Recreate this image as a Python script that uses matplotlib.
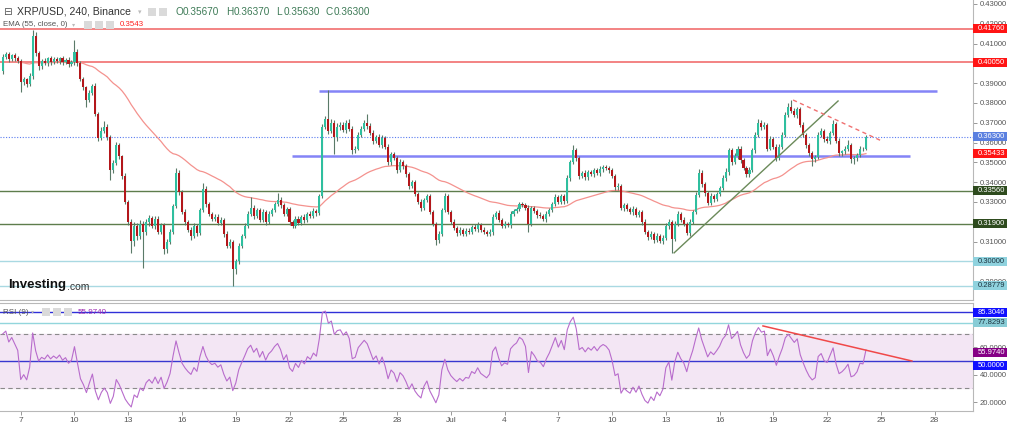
import numpy as np
import matplotlib
matplotlib.use('Agg')
import matplotlib.pyplot as plt
from matplotlib.patches import Rectangle
import matplotlib.transforms as mtransforms

plt.rcParams['font.family'] = ['Liberation Sans', 'DejaVu Sans']

# ---------------- data (4h candles, XRP/USD, starting Jun 6 00:00) ----------------
first_open = 0.3960
closes = [
    0.4030, 0.4045, 0.4020, 0.4040, 0.4025, 0.4010,   # Jun 6
    0.3905, 0.3920, 0.3895, 0.3935, 0.4140, 0.4050,   # Jun 7
    0.3985, 0.4010, 0.4000, 0.4025, 0.4005, 0.4020,   # Jun 8
    0.4010, 0.4025, 0.4005, 0.4015, 0.3995, 0.4005,   # Jun 9
    0.4058, 0.4000, 0.3920, 0.3880, 0.3815, 0.3850,   # Jun 10
    0.3885, 0.3745, 0.3625, 0.3660, 0.3680, 0.3630,   # Jun 11
    0.3460, 0.3495, 0.3590, 0.3530, 0.3430, 0.3300,   # Jun 12
    0.3200, 0.3105, 0.3180, 0.3130, 0.3190, 0.3150,   # Jun 13
    0.3200, 0.3220, 0.3180, 0.3215, 0.3150, 0.3185,   # Jun 14
    0.3065, 0.3100, 0.3150, 0.3280, 0.3445, 0.3350,   # Jun 15
    0.3250, 0.3200, 0.3160, 0.3130, 0.3180, 0.3145,   # Jun 16
    0.3260, 0.3365, 0.3290, 0.3240, 0.3215, 0.3225,   # Jun 17
    0.3195, 0.3210, 0.3140, 0.3080, 0.3100, 0.2960,   # Jun 18
    0.3000, 0.3080, 0.3130, 0.3180, 0.3240, 0.3270,   # Jun 19
    0.3230, 0.3260, 0.3210, 0.3250, 0.3200, 0.3240,   # Jun 20
    0.3260, 0.3290, 0.3310, 0.3285, 0.3240, 0.3265,   # Jun 21
    0.3200, 0.3180, 0.3215, 0.3195, 0.3225, 0.3210,   # Jun 22
    0.3240, 0.3230, 0.3255, 0.3245, 0.3330, 0.3680,   # Jun 23
    0.3720, 0.3660, 0.3700, 0.3630, 0.3680, 0.3690,   # Jun 24
    0.3665, 0.3700, 0.3670, 0.3560, 0.3570, 0.3640,   # Jun 25
    0.3670, 0.3700, 0.3685, 0.3650, 0.3610, 0.3630,   # Jun 26
    0.3590, 0.3625, 0.3580, 0.3500, 0.3540, 0.3520,   # Jun 27
    0.3460, 0.3500, 0.3480, 0.3440, 0.3380, 0.3400,   # Jun 28
    0.3340, 0.3300, 0.3270, 0.3310, 0.3330, 0.3250,   # Jun 29
    0.3190, 0.3110, 0.3140, 0.3260, 0.3330, 0.3250,   # Jun 30
    0.3200, 0.3170, 0.3145, 0.3160, 0.3140, 0.3155,   # Jul 1
    0.3150, 0.3175, 0.3165, 0.3185, 0.3160, 0.3150,   # Jul 2
    0.3140, 0.3150, 0.3225, 0.3245, 0.3210, 0.3180,   # Jul 3
    0.3190, 0.3185, 0.3240, 0.3255, 0.3265, 0.3290,   # Jul 4
    0.3285, 0.3270, 0.3190, 0.3270, 0.3255, 0.3235,   # Jul 5
    0.3230, 0.3215, 0.3240, 0.3260, 0.3290, 0.3325,   # Jul 6
    0.3300, 0.3330, 0.3305, 0.3420, 0.3500, 0.3560,   # Jul 7
    0.3520, 0.3430, 0.3445, 0.3425, 0.3450, 0.3440,   # Jul 8
    0.3460, 0.3445, 0.3465, 0.3475, 0.3470, 0.3460,   # Jul 9
    0.3430, 0.3375, 0.3380, 0.3270, 0.3285, 0.3265,   # Jul 10
    0.3250, 0.3265, 0.3235, 0.3250, 0.3200, 0.3150,   # Jul 11
    0.3125, 0.3140, 0.3110, 0.3130, 0.3105, 0.3120,   # Jul 12
    0.3180, 0.3200, 0.3115, 0.3190, 0.3240, 0.3210,   # Jul 13
    0.3190, 0.3145, 0.3200, 0.3250, 0.3335, 0.3445,   # Jul 14
    0.3390, 0.3345, 0.3295, 0.3330, 0.3315, 0.3340,   # Jul 15
    0.3370, 0.3420, 0.3450, 0.3560, 0.3500, 0.3530,   # Jul 16
    0.3570, 0.3510, 0.3470, 0.3440, 0.3460, 0.3560,   # Jul 17
    0.3640, 0.3700, 0.3680, 0.3690, 0.3570, 0.3620,   # Jul 18
    0.3580, 0.3520, 0.3580, 0.3640, 0.3740, 0.3780,   # Jul 19
    0.3760, 0.3740, 0.3770, 0.3690, 0.3640, 0.3590,   # Jul 20
    0.3545, 0.3515, 0.3525, 0.3640, 0.3660, 0.3620,   # Jul 21
    0.3610, 0.3650, 0.3695, 0.3610, 0.3545, 0.3555,   # Jul 22
    0.3570, 0.3590, 0.3515, 0.3520, 0.3535, 0.3570,   # Jul 23
    0.3567, 0.3630,                                   # Jul 24
]
# wick lengths above / below the body, in units of 0.0001
upper_wick = [
    15, 10, 12, 8, 14, 10,   10, 12, 8, 15, 30, 20,   12, 10, 15, 8, 12, 10,
    10, 8, 12, 10, 15, 10,   60, 15, 10, 12, 8, 15,   12, 15, 10, 20, 30, 12,
    10, 15, 12, 10, 8, 15,   10, 12, 20, 15, 18, 12,  15, 12, 10, 14, 12, 10,
    10, 15, 12, 10, 27, 15,  12, 15, 10, 12, 15, 10,  10, 30, 15, 12, 10, 12,
    15, 12, 10, 14, 12, 10,  12, 15, 10, 12, 15, 57,  15, 12, 10, 14, 12, 15,
    10, 12, 36, 15, 12, 10,  12, 10, 15, 12, 10, 14,  10, 12, 15, 10, 12, 15,
    15, 146, 20, 15, 18, 12, 15, 12, 18, 15, 12, 15,  12, 15, 45, 15, 12, 10,
    15, 12, 10, 14, 12, 10,  12, 15, 10, 12, 10, 12,  10, 12, 15, 10, 12, 10,
    12, 10, 15, 12, 17, 10,  10, 12, 10, 15, 10, 12,  12, 10, 15, 12, 10, 12,
    10, 12, 15, 10, 12, 10,  12, 10, 15, 12, 10, 12,  10, 12, 15, 12, 10, 12,
    12, 10, 15, 12, 10, 15,  10, 12, 10, 15, 12, 28,  15, 12, 10, 14, 12, 10,
    12, 10, 15, 12, 10, 12,  10, 12, 15, 10, 12, 10,  12, 15, 10, 12, 10, 12,
    10, 12, 10, 15, 10, 12,  12, 15, 10, 12, 15, 10,  12, 10, 15, 12, 15, 20,
    15, 12, 10, 14, 12, 10,  12, 15, 20, 15, 12, 15,  12, 15, 10, 12, 15, 12,
    15, 18, 12, 15, 10, 12,  10, 12, 15, 12, 15, 18,  35, 15, 12, 10, 12, 10,
    10, 12, 10, 15, 12, 10,  12, 10, 20, 10, 12, 10,  12, 25, 10, 12, 10, 12,
    10, 7,
]
lower_wick = [
    12, 10, 15, 8, 12, 10,   49, 12, 15, 10, 12, 15,  20, 12, 10, 14, 12, 10,
    10, 12, 15, 10, 12, 10,  12, 15, 10, 12, 35, 10,  12, 10, 15, 12, 10, 15,
    49, 12, 10, 15, 12, 10,  15, 62, 25, 20, 15, 183, 15, 20, 12, 15, 10, 12,
    30, 25, 12, 10, 12, 15,  12, 15, 10, 20, 12, 15,  10, 12, 15, 10, 12, 10,
    12, 10, 15, 12, 10, 82,  25, 15, 12, 10, 12, 10,  15, 12, 10, 12, 15, 10,
    12, 10, 12, 15, 10, 12,  15, 12, 10, 12, 10, 15,  10, 12, 10, 15, 12, 10,
    12, 15, 12, 90, 20, 15,  12, 15, 12, 20, 15, 10,  12, 10, 15, 12, 15, 10,
    12, 15, 10, 15, 12, 10,  12, 10, 15, 12, 15, 10,  12, 10, 15, 12, 10, 12,
    10, 28, 15, 10, 12, 10,  12, 10, 15, 12, 10, 12,  10, 12, 10, 15, 12, 10,
    12, 10, 15, 12, 10, 12,  10, 12, 15, 10, 12, 10,  12, 10, 40, 12, 10, 15,
    12, 10, 15, 12, 10, 12,  10, 12, 15, 10, 12, 10,  12, 15, 10, 15, 12, 10,
    12, 10, 15, 12, 10, 12,  10, 12, 15, 12, 15, 10,  12, 15, 10, 12, 15, 12,
    15, 12, 15, 10, 12, 15,  12, 15, 74, 12, 10, 12,  10, 12, 15, 10, 12, 10,
    12, 15, 12, 10, 15, 12,  12, 10, 15, 12, 15, 10,  12, 15, 10, 15, 12, 10,
    12, 10, 15, 12, 15, 10,  12, 15, 10, 12, 10, 12,  12, 10, 15, 12, 10, 15,
    12, 35, 15, 10, 12, 15,  12, 15, 10, 12, 15, 12,  15, 12, 20, 25, 12, 10,
    12, 4,
]

ema_period = 55
ema_seed = 0.4005
rsi_period = 9
rsi_seed_gain = 0.0012
rsi_seed_loss = 0.0009

# horizontal levels
red_levels = [0.41760, 0.40050]
green_levels = [0.33560, 0.31900]
cyan_levels = [0.30000, 0.28779]
last_price = 0.36300
ema_last = 0.35433
# range lines: (start day, end day, price)  -- days since Jun 6 00:00
range_lines = [(17.64, 52.13, 0.3862), (16.14, 50.63, 0.3530)]
up_trend_days = [37.46, 46.61]
up_trend_prices = [0.3043, 0.3810]
down_trend_days = [44.10, 49.12]
down_trend_prices = [0.3815, 0.3605]
rsi_trend_days = [42.42, 50.73]
rsi_trend_vals = [75.5, 50.0]
rsi_hi, rsi_mid_hi, rsi_mid = 85.3046, 77.8293, 50.0
rsi_last = 55.9740
rsi_band = (30, 70)

header_title = 'XRP/USD, 240, Binance'
ohlc_keys = ['O', 'H', 'L', 'C']
ohlc_vals = ['0.35670', '0.36370', '0.35630', '0.36300']

tick_days = [1, 4, 7, 10, 13, 16, 19, 22, 25, 28, 31, 34, 37, 40, 43, 46, 49, 52]
tick_labels = ['7', '10', '13', '16', '19', '22', '25', '28', 'Jul', '4', '7', '10',
               '13', '16', '19', '22', '25', '28']
price_ticks = [0.29, 0.30, 0.31, 0.32, 0.33, 0.34, 0.35, 0.36, 0.37, 0.38, 0.39,
               0.40, 0.41, 0.42, 0.43]
price_ticks_covered = [0.30, 0.32, 0.40]   # hidden under level tags in the reference
rsi_ticks = [20, 40, 60, 80]
rsi_ticks_covered = [80]

# ---------------- derived ----------------
closes_a = np.array(closes)
opens_a = np.concatenate([[first_open], closes_a[:-1]])
highs_a = np.maximum(opens_a, closes_a) + np.array(upper_wick) * 1e-4
lows_a = np.minimum(opens_a, closes_a) - np.array(lower_wick) * 1e-4
xs = np.arange(len(closes)) / 6.0

alpha = 2.0 / (ema_period + 1)
ema = []
e = ema_seed
for c in closes:
    e = e + alpha * (c - e)
    ema.append(e)

rsi = []
ag, al = rsi_seed_gain, rsi_seed_loss
prev = first_open
for c in closes:
    d = c - prev
    ag = (ag * (rsi_period - 1) + max(d, 0)) / rsi_period
    al = (al * (rsi_period - 1) + max(-d, 0)) / rsi_period
    rsi.append(100 - 100 / (1 + ag / al))
    prev = c

# ---------------- figure ----------------
W, H = 1024, 426
fig = plt.figure(figsize=(W / 100, H / 100), dpi=100)
fig.patch.set_facecolor('white')

def fx(px):
    return px / W

def fy(py):
    return 1 - py / H

axis_x = 973
main_top, main_bot = 0, 300
rsi_top, rsi_bot = 303, 411
ax = fig.add_axes([0, fy(main_bot), fx(axis_x), fy(main_top) - fy(main_bot)])
axr = fig.add_axes([0, fy(rsi_bot), fx(axis_x), fy(rsi_top) - fy(rsi_bot)], sharex=ax)

xmin, xmax = -0.156, 54.14
ax.set_xlim(xmin, xmax)
main_ylim = (0.2805, 0.4320)
rsi_ylim = (13.6, 92.2)
ax.set_ylim(*main_ylim)
axr.set_ylim(*rsi_ylim)

GREY = '#b8b8b8'
TXT = '#555555'
FS = 5.5
for a in (ax, axr):
    a.set_facecolor('white')
    for s in ('left', 'top'):
        a.spines[s].set_visible(False)
    a.spines['right'].set_color(GREY)
    a.spines['bottom'].set_color(GREY)
    a.yaxis.tick_right()
    a.tick_params(axis='y', which='both', length=3, width=0.6, color='#888888',
                  labelsize=FS, labelcolor=TXT, pad=2)
axr.spines['top'].set_visible(True)
axr.spines['top'].set_color(GREY)

ax.tick_params(axis='x', which='both', bottom=False, labelbottom=False)
axr.set_xticks(tick_days)
axr.set_xticklabels(tick_labels)
axr.tick_params(axis='x', length=3, width=0.6, color='#888888', labelsize=6,
                labelcolor=TXT, pad=1.5)

ax.set_yticks(price_ticks)
ax.set_yticklabels(['' if any(abs(v - c) < 1e-9 for c in price_ticks_covered)
                    else '%.5f' % v for v in price_ticks])
axr.set_yticks(rsi_ticks)
axr.set_yticklabels(['' if v in rsi_ticks_covered else '%.4f' % v for v in rsi_ticks])

# ---- horizontal levels ----
for p in red_levels:
    ax.axhline(p, color='#f06262', lw=1.1, zorder=2)
for p in green_levels:
    ax.axhline(p, color='#5e7d4c', lw=1.0, zorder=2)
for p in cyan_levels:
    ax.axhline(p, color='#a9d9e2', lw=1.0, zorder=2)
ax.axhline(last_price, color='#5a7cf0', lw=0.8, ls=(0, (1, 1.5)), zorder=2)
for d0, d1, p in range_lines:
    ax.plot([d0, d1], [p, p], color='#8484f7', lw=1.8, zorder=2, solid_capstyle='butt')

# ---- EMA ----
ax.plot(xs, ema, color='#f4928e', lw=0.9, zorder=3)

# ---- candles ----
up = closes_a >= opens_a
body_bottom = np.minimum(opens_a, closes_a)
body_h = np.maximum(np.abs(closes_a - opens_a), 0.00025)
ax.vlines(xs, lows_a, highs_a, color='#5a7a68', lw=0.8, zorder=4)
ax.bar(xs, body_h, bottom=body_bottom, width=0.115,
       color=np.where(up, '#2fbf9f', '#b3171b'), edgecolor='none', zorder=5)

# ---- trendlines ----
ax.plot(up_trend_days, up_trend_prices, color='#6b8a5a', lw=1.0, zorder=6)
ax.plot(down_trend_days, down_trend_prices, color='#f07070', lw=1.0,
        ls=(0, (3, 2.5)), zorder=6)

# ---- RSI pane ----
axr.axhspan(rsi_band[0], rsi_band[1], color='#f3e6f4', zorder=0)
for v in rsi_band:
    axr.axhline(v, color='#8a8a8a', lw=0.8, ls=(0, (4, 3)), zorder=1)
axr.axhline(rsi_hi, color='#3030d8', lw=1.0, zorder=2)
axr.axhline(rsi_mid_hi, color='#92d6dc', lw=1.0, zorder=2)
axr.axhline(rsi_mid, color='#3838d0', lw=1.0, zorder=2)
axr.plot(xs, rsi, color='#b86ccc', lw=0.8, zorder=3)
axr.plot(rsi_trend_days, rsi_trend_vals, color='#f04848', lw=1.1, zorder=4)

# ---- right-axis tags (fixed pixel size boxes) ----
TAG_W, TAG_H = 34, 9

def tag(a, y, text, bg, fg='white', ylim=None, pane_h=None):
    tr = mtransforms.blended_transform_factory(a.transAxes, a.transData)
    per_px = (ylim[1] - ylim[0]) / pane_h
    a.add_patch(Rectangle((1.0, y - TAG_H / 2 * per_px), TAG_W / axis_x,
                          TAG_H * per_px, transform=tr, fc=bg, ec='none',
                          clip_on=False, zorder=19))
    a.text(1.0 + 4.5 / axis_x, y, text, transform=tr, ha='left', va='center',
           fontsize=FS, color=fg, clip_on=False, zorder=20)

mh = main_bot - main_top
rh = rsi_bot - rsi_top
tag(ax, red_levels[0], '%.5f' % red_levels[0], '#ff1414', ylim=main_ylim, pane_h=mh)
tag(ax, red_levels[1], '%.5f' % red_levels[1], '#ff1414', ylim=main_ylim, pane_h=mh)
tag(ax, last_price, '%.5f' % last_price, '#5b80e0', ylim=main_ylim, pane_h=mh)
tag(ax, ema_last, '%.5f' % ema_last, '#ff1414', ylim=main_ylim, pane_h=mh)
tag(ax, green_levels[0], '%.5f' % green_levels[0], '#2e4b1e', ylim=main_ylim, pane_h=mh)
tag(ax, green_levels[1], '%.5f' % green_levels[1], '#2e4b1e', ylim=main_ylim, pane_h=mh)
tag(ax, cyan_levels[0], '%.5f' % cyan_levels[0], '#8fd2de', '#1c3440',
    ylim=main_ylim, pane_h=mh)
tag(ax, cyan_levels[1], '%.5f' % cyan_levels[1], '#8fd2de', '#1c3440',
    ylim=main_ylim, pane_h=mh)
tag(axr, rsi_hi, '%.4f' % rsi_hi, '#1010ff', ylim=rsi_ylim, pane_h=rh)
tag(axr, rsi_mid_hi, '%.4f' % rsi_mid_hi, '#88ccd6', '#1c3440', ylim=rsi_ylim, pane_h=rh)
tag(axr, rsi_last, '%.4f' % rsi_last, '#850085', ylim=rsi_ylim, pane_h=rh)
tag(axr, 47.0, '%.4f' % rsi_mid, '#1010ff', ylim=rsi_ylim, pane_h=rh)

# ---- header texts ----
def ftext(x, y, s, **kw):
    return fig.text(fx(x), fy(y), s, va='center', ha='left', **kw)

def icon(x, y, w=8, h=8):
    fig.patches.append(Rectangle((fx(x), fy(y + h / 2)), w / W, h / H,
                                 transform=fig.transFigure, fc='#dadada',
                                 ec='none', zorder=5))

ftext(3, 12, '\u229f', fontsize=7.5, color='#555555', family='DejaVu Sans')
ftext(17, 12, header_title, fontsize=7.6, color='#333333')
ftext(138, 12, '\u25be', fontsize=5, color='#bbbbbb', family='DejaVu Sans')
icon(148, 12)
icon(159, 12)
ohlc_x = [175, 226, 276, 326]
for k, v, x in zip(ohlc_keys, ohlc_vals, ohlc_x):
    ftext(x, 12, k, fontsize=7.2, color='#3d7a56')
    ftext(x + 7.5, 12, v, fontsize=7.2, color='#3d7a56')

ftext(3, 25, 'EMA (55, close, 0)', fontsize=5.7, color='#555555')
ftext(72, 25, '\u25be', fontsize=4.5, color='#bbbbbb', family='DejaVu Sans')
icon(84, 25, 8, 8)
icon(95, 25, 8, 8)
icon(106, 25, 8, 8)
ftext(120, 25, '0.3543', fontsize=5.7, color='#ff2020')

ftext(3, 312, 'RSI (9)', fontsize=5.8, color='#555555')
ftext(31, 312, '\u25be', fontsize=4.5, color='#bbbbbb', family='DejaVu Sans')
icon(42, 312, 8, 8)
icon(53, 312, 8, 8)
icon(64, 312, 8, 8)
ftext(78, 312, '%.4f' % rsi_last, fontsize=5.8, color='#9c27b0')

# ---- Investing.com logo ----
t1 = ftext(8, 285, 'Investing', fontsize=9.5, fontweight='bold', color='#111111')
fig.canvas.draw()
bb = t1.get_window_extent()
fig.text(bb.x1 / W + 0.5 / W, fy(287), '.com', fontsize=7.5, color='#333333',
         va='center', ha='left')

fig.savefig('out.png', dpi=100, facecolor='white')
